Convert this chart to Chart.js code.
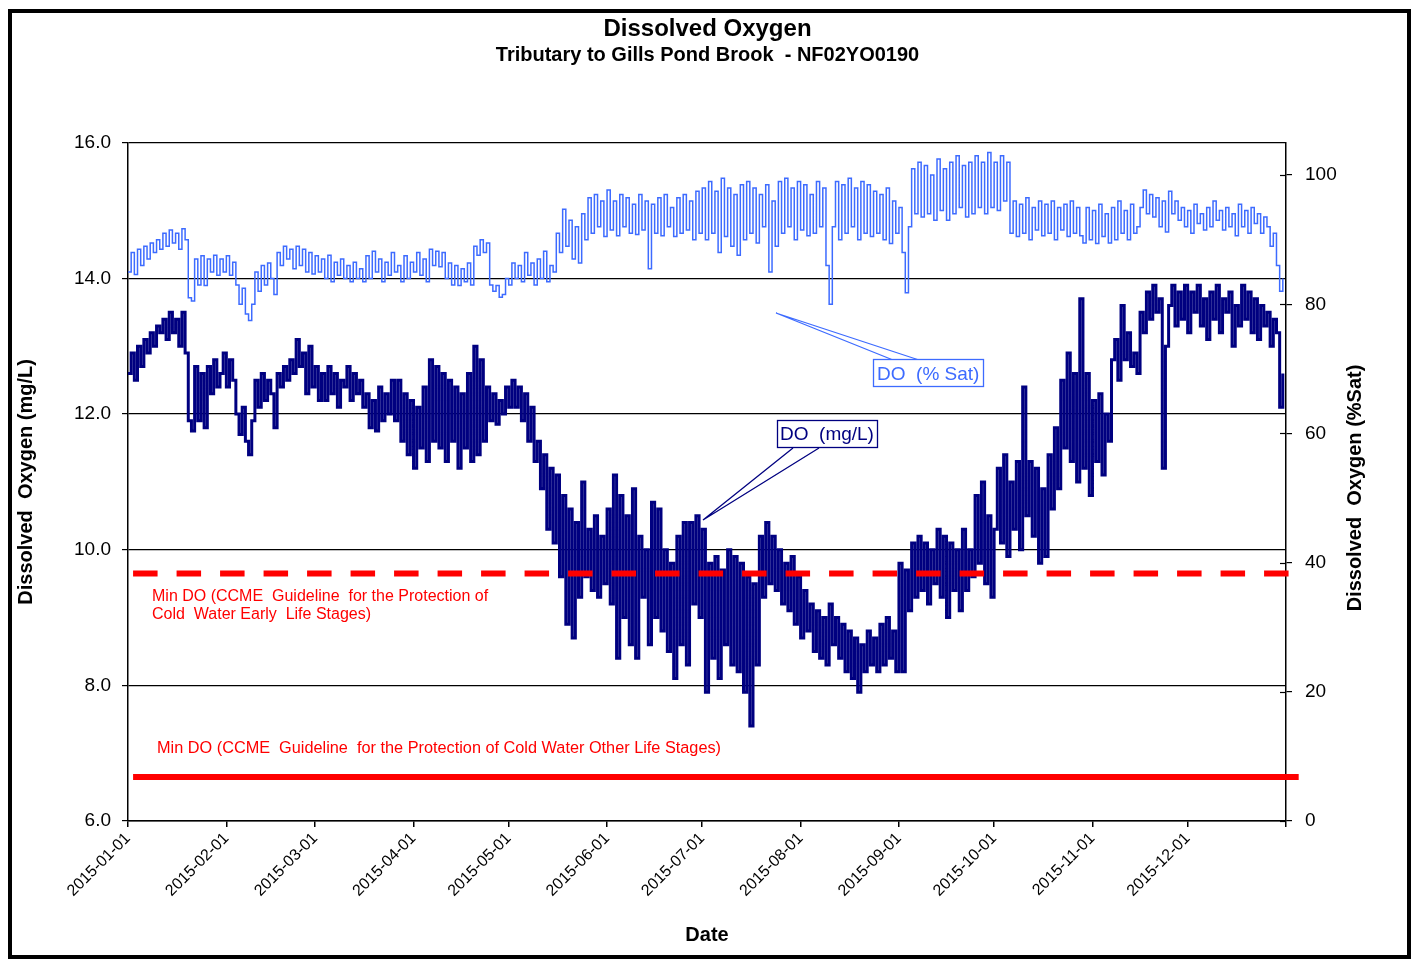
<!DOCTYPE html>
<html>
<head>
<meta charset="utf-8">
<script src="https://cdn.jsdelivr.net/npm/chart.js@4.4.1/dist/chart.umd.min.js"></script>
<style>
  html, body { margin: 0; padding: 0; background: #fff; }
  #frame { position: absolute; left: 8px; top: 9px; width: 1403px; height: 950px; border: 4px solid #000; box-sizing: border-box; }
  #wrap { position: absolute; left: 0; top: 0; width: 1415px; height: 959px; }
</style>
</head>
<body>
<div id="frame"></div>
<div id="wrap"><canvas id="chart"></canvas></div>
<script>
// day 0 = 2015-01-01, one reading per day
const monthDays = [0, 31, 59, 90, 120, 151, 181, 212, 243, 273, 304, 334];
const monthLabels = ['2015-01-01', '2015-02-01', '2015-03-01', '2015-04-01', '2015-05-01', '2015-06-01',
  '2015-07-01', '2015-08-01', '2015-09-01', '2015-10-01', '2015-11-01', '2015-12-01'];
const mgTicks = [6, 8, 10, 12, 14, 16];
const satTicks = [0, 20, 40, 60, 80, 100];

// DO (mg/L)
const doMg = [
  12.6, 12.9, 12.5, 13.0, 12.7, 13.1, 12.9, 13.2, 13.0, 13.3, 13.2, 13.4, 13.1, 13.5, 13.2, 13.4, 13.0, 13.5, 12.9,
  11.9, 11.75, 12.7, 11.9, 12.6, 11.8, 12.7, 12.3, 12.8, 12.4, 12.6, 12.9, 12.4, 12.8, 12.5,
  12.0, 11.7, 12.1, 11.6, 11.4, 11.9, 12.5, 12.1, 12.6, 12.2, 12.5, 12.3, 11.8,
  12.6, 12.4, 12.7, 12.5, 12.8, 12.6, 13.1, 12.7, 12.9, 12.3, 13.0, 12.4, 12.7, 12.2,
  // Mar
  12.6, 12.2, 12.7, 12.3, 12.6, 12.1, 12.5, 12.4, 12.7, 12.2, 12.6, 12.3, 12.5, 12.1,
  12.3, 11.8, 12.2, 11.75, 12.4, 11.9, 12.3, 12.0, 12.5, 11.9,
  12.5, 11.6, 12.3, 11.4, 12.2, 11.2, 12.1, 11.5, 12.4, 11.3,
  12.8, 11.6, 12.7, 11.5, 12.6, 11.3, 12.5, 11.6, 12.4, 11.2, 12.3, 11.5, 12.6, 11.3,
  13.0, 11.4, 12.8, 11.6, 12.4, 11.9, 12.3, 11.85, 12.2, 12.0, 12.4, 12.1,
  // May
  12.5, 12.1, 12.4, 11.9, 12.3, 11.6, 12.1, 11.3, 11.6, 10.9, 11.4, 10.3, 11.2, 10.1, 11.1, 9.6,
  10.8, 8.9, 10.6, 8.7, 10.4, 9.3, 11.0, 9.6, 10.3, 9.4, 10.5, 9.3, 10.2, 9.5, 10.6, 9.2,
  11.1, 8.4, 10.8, 9.0, 10.5, 8.6, 10.9, 8.4, 10.2, 9.3, 10.0, 8.6, 10.7, 9.0, 10.6, 8.8,
  10.0, 8.5, 9.8, 8.1, 10.2, 8.6, 10.4, 8.3, 10.4, 9.2, 10.5, 9.0, 10.3,
  // Jul
  7.9, 9.8, 8.4, 9.9, 8.1, 9.7, 8.6, 10.0, 8.3, 9.9, 8.2, 9.8, 7.9, 9.6, 7.4, 9.5, 8.3,
  10.2, 9.3, 10.4, 9.5, 10.2, 9.4, 10.0, 9.2, 9.8, 9.1, 9.9, 8.9, 9.6, 8.7, 9.4, 8.8, 9.2,
  8.5, 9.1, 8.4, 9.0, 8.3, 9.2, 8.6, 9.0, 8.4, 8.9, 8.2, 8.8,
  8.1, 8.7, 7.9, 8.6, 8.2, 8.8, 8.3, 8.7, 8.2, 8.9, 8.3, 9.0, 8.4,
  // Aug 29 onward
  8.8, 8.2, 9.8, 8.2, 9.7, 9.1, 10.1,
  9.3, 10.2, 9.4, 10.1, 9.2, 10.0, 9.5, 10.3, 9.3, 10.2, 9.0, 10.1, 9.4, 10.0, 9.1, 10.3, 9.4, 10.0, 9.6,
  10.8, 9.8, 11.0, 9.5, 10.5, 9.3, 10.3,
  // Oct
  11.2, 10.1, 11.4, 9.9, 11.0, 10.3, 11.3, 10.0, 12.4, 10.5,
  11.3, 10.2, 11.2, 9.8, 10.9, 9.9, 11.4, 10.6, 11.8, 10.9, 12.5, 11.5, 12.9, 11.3, 12.6, 11.0, 13.7,
  11.2, 12.6, 10.8, 12.2, 11.3, 12.3, 11.1, 12.0, 11.6, 12.8,
  13.1, 12.5, 13.6, 12.8, 13.2, 12.7, 12.9, 12.6,
  13.5, 13.2, 13.8, 13.4, 13.9, 13.5, 13.7, 11.2, 13.0, 13.6, 13.9, 13.3, 13.8,
  // Dec
  13.4, 13.9, 13.2, 13.8, 13.5, 13.9, 13.3, 13.7, 13.1, 13.8, 13.4, 13.9, 13.2, 13.7, 13.5,
  13.8, 13.0, 13.6, 13.3, 13.9, 13.4, 13.8, 13.2, 13.7, 13.1, 13.6, 13.3, 13.5, 13.0, 13.4,
  13.2, 12.1, 12.6
];

// DO (% Sat)
const doSat = [
  85, 88, 84.6, 88.5, 86, 89, 87, 89.5, 88, 90, 88.5, 91, 89, 91.5, 89.5, 91, 88.5, 91.7, 90,
  81, 80.5, 87, 83, 87.5, 82.9, 87, 85, 87.6, 84.5, 87, 85, 87.5, 84.5, 86.5,
  83, 80, 82.5, 78.5, 77.5, 80, 85, 82, 86, 83, 86.4, 84, 81.5,
  88, 86, 89, 87, 88.5, 85.5, 89, 86, 88.5, 85, 88, 84.7, 87.5, 85,
  // Mar
  87, 84, 87.6, 83.5, 86.5, 84.5, 87, 84, 86, 83.5, 86.5, 84, 85.5, 83.5,
  87.5, 84, 88.2, 85, 87, 83.5, 86.5, 84.5, 88, 85, 86, 83.5, 87.5, 84, 86.5, 85, 88, 84.5, 87, 83.5,
  88.5, 86, 88.2, 85.8, 88, 84, 86.4, 83, 86, 82.9, 85.5, 83.5, 86.4, 83,
  89, 87.6, 90, 88, 89.5, 83, 82, 82.9, 81.1, 81.5,
  84, 83, 86.4, 84, 86, 83.5, 88, 84.5, 86.4, 83, 87, 84, 88.2, 83.5, 86, 85,
  91, 88, 94.7, 89, 93, 87, 92, 86.4, 94, 90,
  // May 26 onward
  96.5, 91, 97, 92, 96, 90.5, 97.7, 91.5, 96, 90.6, 97, 92, 96.5, 91, 95.5, 90.8, 97, 91.5,
  96, 85.5, 95.5, 91, 96.5, 90.6, 97, 92, 95, 90.5, 96.5, 91, 97, 91.5, 96, 90, 97.5, 91,
  // Jul
  98, 90, 99, 91, 97.5, 88, 99.5, 90.5, 98, 89, 97, 87.6, 98.5, 90, 99, 91, 98, 89.5, 97, 92, 98.5, 85, 96, 89,
  99, 91, 99.5, 92, 98, 90, 99, 91.5, 98.5, 90.6, 97, 91, 99, 92, 98, 86, 80,
  92, 99, 90, 98.5, 91, 99.5, 92, 98, 90, 99, 91, 98.5, 90.5, 97.5, 91,
  97, 90, 98, 89.4, 96, 91, 95, 88, 81.8, 92,
  // Sep 5 onward
  101, 94, 102, 93.5, 101.5, 94, 100, 93, 102.5, 94.5, 101, 93, 102, 94, 103, 95,
  101.5, 93.5, 102, 94, 103, 95, 102, 94, 103.5, 95, 102, 94.5, 103, 96, 102,
  91, 96, 90.5, 95.5, 91, 96.5, 90, 95, 91.5, 96, 90.6, 95.5, 91, 96, 90, 95, 91.5, 95.5, 90.5, 96, 91, 95, 90.6,
  // Oct 29 onward
  89.5, 95, 90, 94.5, 89.4, 95.5, 90.5, 94, 89.5, 95, 90, 96, 91, 94.5, 90, 95.5, 91, 92,
  95, 97.7, 94, 97, 93.5, 96.5, 92, 96, 91.2, 97.5, 94, 96, 93,
  95, 92, 94.5, 91, 95.5, 92.5, 94, 91.5, 95, 92, 96, 93, 94.5, 91.5, 95, 92, 94, 90.6,
  95.5, 92, 94.5, 91, 95, 92.5, 94, 91, 93.5,
  92, 89, 91, 86, 82, 84
];

// CCME guideline levels (mg/L) and the day span of the drawn lines
const guideEarly = 9.65;
const guideOther = 6.65;
const guideStart = 1.6;
const guideEarlyEnd = 367;
const guideOtherEnd = 369;

const FONT = '"Liberation Sans", Arial, sans-serif';

const callouts = {
  id: 'callouts',
  afterDraw(chart) {
    const ctx = chart.ctx;
    const y1 = chart.scales.y1;
    ctx.save();

    // right axis ticks cross the axis line
    ctx.strokeStyle = '#000';
    ctx.lineWidth = 1.2;
    satTicks.forEach(v => {
      const py = Math.round(y1.getPixelForValue(v)) + 0.5;
      ctx.beginPath();
      ctx.moveTo(y1.left - 6, py); ctx.lineTo(y1.left, py);
      ctx.stroke();
    });

    // right axis title, reading bottom to top like the left one
    ctx.save();
    ctx.translate(1355, 488);
    ctx.rotate(-Math.PI / 2);
    ctx.textAlign = 'center';
    ctx.textBaseline = 'middle';
    ctx.fillStyle = '#000';
    ctx.font = 'bold 20px ' + FONT;
    ctx.fillText('Dissolved  Oxygen (%Sat)', 0, 0);
    ctx.restore();

    ctx.textBaseline = 'middle';
    ctx.textAlign = 'left';

    // guideline captions
    ctx.fillStyle = '#ff0000';
    ctx.font = '16px ' + FONT;
    ctx.fillText('Min DO (CCME  Guideline  for the Protection of', 152, 597);
    ctx.fillText('Cold  Water Early  Life Stages)', 152, 615);
    ctx.font = '16.3px ' + FONT;
    ctx.fillText('Min DO (CCME  Guideline  for the Protection of Cold Water Other Life Stages)', 157, 749);

    // DO (% Sat) label
    ctx.strokeStyle = '#3d6bff';
    ctx.lineWidth = 1.3;
    ctx.beginPath();
    ctx.moveTo(893, 360); ctx.lineTo(776, 313); ctx.lineTo(919, 360);
    ctx.stroke();
    ctx.fillStyle = '#fff';
    ctx.fillRect(873.5, 359.5, 110, 27);
    ctx.strokeRect(873.5, 359.5, 110, 27);
    ctx.fillStyle = '#3d6bff';
    ctx.font = '19px ' + FONT;
    ctx.fillText('DO  (% Sat)', 877, 375);

    // DO (mg/L) label
    ctx.strokeStyle = '#000080';
    ctx.beginPath();
    ctx.moveTo(793, 448); ctx.lineTo(703, 520); ctx.lineTo(819, 448);
    ctx.stroke();
    ctx.fillStyle = '#fff';
    ctx.fillRect(777.5, 420.5, 100, 27);
    ctx.strokeRect(777.5, 420.5, 100, 27);
    ctx.fillStyle = '#000080';
    ctx.fillText('DO  (mg/L)', 780, 435);
    ctx.restore();
  }
};

new Chart(document.getElementById('chart'), {
  type: 'line',
  plugins: [callouts],
  data: {
    datasets: [
      {
        label: 'Min DO early life stages',
        data: [{ x: guideStart, y: guideEarly }, { x: guideEarlyEnd, y: guideEarly }],
        borderColor: '#ff0000', borderWidth: 6, borderDash: [24.5, 19], borderCapStyle: 'butt',
        pointRadius: 0, clip: false, yAxisID: 'y'
      },
      {
        label: 'Min DO other life stages',
        data: [{ x: guideStart, y: guideOther }, { x: guideOtherEnd, y: guideOther }],
        borderColor: '#ff0000', borderWidth: 6, pointRadius: 0, clip: false, yAxisID: 'y'
      },
      {
        label: 'DO (mg/L)',
        data: doMg.map((v, i) => ({ x: i, y: v })),
        borderColor: '#000080', borderWidth: 3, stepped: true, pointRadius: 0, yAxisID: 'y'
      },
      {
        label: 'DO (% Sat)',
        data: doSat.map((v, i) => ({ x: i, y: v })),
        borderColor: '#3d6bff', borderWidth: 1.5, stepped: true, pointRadius: 0, yAxisID: 'y1'
      }
    ]
  },
  options: {
    responsive: true,
    maintainAspectRatio: false,
    animation: false,
    layout: { padding: { top: 15, left: 0, right: 0, bottom: 0 } },
    plugins: {
      legend: { display: false },
      tooltip: { enabled: false },
      title: {
        display: true, text: 'Dissolved Oxygen', color: '#000',
        font: { family: FONT, size: 24, weight: 'bold' }, padding: { top: 0, bottom: 0 }
      },
      subtitle: {
        display: true, text: 'Tributary to Gills Pond Brook  - NF02YO0190', color: '#000',
        font: { family: FONT, size: 20, weight: 'bold' }, padding: { top: 0, bottom: 75 }
      }
    },
    scales: {
      x: {
        type: 'linear', min: 0, max: 365,
        afterFit: (s) => { s.height = 138; },
        afterBuildTicks: (s) => { s.ticks = monthDays.concat([365]).map(value => ({ value })); },
        ticks: {
          autoSkip: false, minRotation: 45, maxRotation: 45, padding: 2, color: '#000',
          font: { family: FONT, size: 16 },
          callback: (value, index) => monthLabels[index] || ''
        },
        grid: { drawOnChartArea: false, tickLength: 6, color: '#000', lineWidth: 1.5 },
        border: { color: '#000', width: 1.5 },
        title: { display: true, text: 'Date', color: '#000', font: { family: FONT, size: 20, weight: 'bold' }, padding: { top: 0, bottom: 12 } }
      },
      y: {
        position: 'left', min: 6, max: 16,
        afterFit: (s) => { s.width = 128; },
        afterBuildTicks: (s) => { s.ticks = mgTicks.map(value => ({ value })); },
        ticks: { padding: 11, color: '#000', font: { family: FONT, size: 19 }, callback: (v) => v.toFixed(1) },
        grid: { color: '#000', lineWidth: 1.2, tickLength: 6 },
        border: { color: '#000', width: 1.5 },
        title: { display: true, text: 'Dissolved  Oxygen (mg/L)', color: '#000', font: { family: FONT, size: 20, weight: 'bold' }, padding: { top: 14, bottom: 0 } }
      },
      y1: {
        position: 'right', min: 0, max: 105,
        afterFit: (s) => { s.width = 129; },
        afterBuildTicks: (s) => { s.ticks = satTicks.map(value => ({ value })); },
        ticks: { padding: 13, color: '#000', font: { family: FONT, size: 19 } },
        grid: { drawOnChartArea: false, color: '#000', lineWidth: 1.2, tickLength: 6 },
        border: { color: '#000', width: 1.5 },
        title: { display: false }
      }
    }
  }
});
</script>
</body>
</html>
